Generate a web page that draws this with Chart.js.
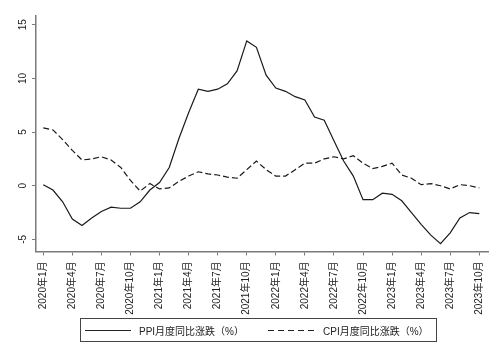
<!DOCTYPE html>
<html lang="zh">
<head>
    <meta charset="UTF-8">
    <title>PPI与CPI月度同比涨跌</title>
    <script src="https://cdn.jsdelivr.net/npm/chart.js"></script>
    <style>
        body { margin: 0; background: #fff; }
        .wrap { position: relative; width: 500px; height: 364px; }
        .legend {
            position: absolute; left: 80px; top: 318px; width: 355px; height: 22px;
            border: 1px solid #444;
            font: 10px 'Liberation Sans', 'Noto Sans CJK SC', sans-serif; color: #222;
        }
        .legend span, .legend svg { position: absolute; }
    </style>
</head>
<body>
<div class="wrap">
    <canvas id="chart" width="500" height="364"></canvas>
    <div class="legend">
        <svg style="left:4px;top:10px" width="46" height="3"><line x1="0" y1="1.5" x2="46" y2="1.5" stroke="#222" stroke-width="1.2"/></svg>
        <span style="left:58px;top:4px">PPI月度同比涨跌（%）</span>
        <svg style="left:187px;top:10px" width="48" height="3"><line x1="0" y1="1.5" x2="48" y2="1.5" stroke="#222" stroke-width="1.2" stroke-dasharray="6,4"/></svg>
        <span style="left:242px;top:4px">CPI月度同比涨跌（%）</span>
    </div>
</div>
<script>
    // 月份
    const months = [
        '2020年1月','2020年2月','2020年3月','2020年4月','2020年5月','2020年6月',
        '2020年7月','2020年8月','2020年9月','2020年10月','2020年11月','2020年12月',
        '2021年1月','2021年2月','2021年3月','2021年4月','2021年5月','2021年6月',
        '2021年7月','2021年8月','2021年9月','2021年10月','2021年11月','2021年12月',
        '2022年1月','2022年2月','2022年3月','2022年4月','2022年5月','2022年6月',
        '2022年7月','2022年8月','2022年9月','2022年10月','2022年11月','2022年12月',
        '2023年1月','2023年2月','2023年3月','2023年4月','2023年5月','2023年6月',
        '2023年7月','2023年8月','2023年9月','2023年10月'
    ];
    // PPI月度同比涨跌（%）
    const ppi = [
        0.1, -0.4, -1.5, -3.1, -3.7, -3.0, -2.4, -2.0, -2.1, -2.1, -1.5, -0.4,
        0.3, 1.7, 4.4, 6.8, 9.0, 8.8, 9.0, 9.5, 10.7, 13.5, 12.9, 10.3,
        9.1, 8.8, 8.3, 8.0, 6.4, 6.1, 4.2, 2.3, 0.9, -1.3, -1.3, -0.7,
        -0.8, -1.4, -2.5, -3.6, -4.6, -5.4, -4.4, -3.0, -2.5, -2.6
    ];
    // CPI月度同比涨跌（%）
    const cpi = [
        5.4, 5.2, 4.3, 3.3, 2.4, 2.5, 2.7, 2.4, 1.7, 0.5, -0.5, 0.2,
        -0.3, -0.2, 0.4, 0.9, 1.3, 1.1, 1.0, 0.8, 0.7, 1.5, 2.3, 1.5,
        0.9, 0.9, 1.5, 2.1, 2.1, 2.5, 2.7, 2.5, 2.8, 2.1, 1.6, 1.8,
        2.1, 1.0, 0.7, 0.1, 0.2, 0.0, -0.3, 0.1, 0.0, -0.2
    ];
    // 坐标轴刻度
    const xTickIdx = [0, 3, 6, 9, 12, 15, 18, 21, 24, 27, 30, 33, 36, 39, 42, 45];
    const yTicks = [-5, 0, 5, 10, 15];

    const FONT = "'Liberation Sans', 'Noto Sans CJK SC', sans-serif";
    const AXIS = '#7a7a7a';

    // y轴竖排数字
    const yLabelPlugin = {
        id: 'yLabels',
        afterDraw(chart) {
            const ctx = chart.ctx, y = chart.scales.y;
            ctx.save();
            ctx.font = '10px ' + FONT;
            ctx.fillStyle = '#222';
            ctx.textAlign = 'center';
            ctx.textBaseline = 'middle';
            yTicks.forEach(v => {
                ctx.save();
                ctx.translate(23, y.getPixelForValue(v));
                ctx.rotate(-Math.PI / 2);
                ctx.fillText(String(v), 0, 0);
                ctx.restore();
            });
            ctx.restore();
        }
    };

    new Chart(document.getElementById('chart'), {
        type: 'line',
        data: {
            datasets: [{
                label: 'PPI月度同比涨跌（%）',
                data: ppi.map((v, i) => ({ x: i, y: v })),
                borderColor: '#1a1a1a',
                borderWidth: 1.2,
                pointRadius: 0,
                tension: 0
            }, {
                label: 'CPI月度同比涨跌（%）',
                data: cpi.map((v, i) => ({ x: i, y: v })),
                borderColor: '#1a1a1a',
                borderWidth: 1.2,
                borderDash: [6, 3],
                pointRadius: 0,
                tension: 0
            }]
        },
        options: {
            responsive: false,
            animation: false,
            layout: { padding: { top: 16, right: 12, left: 0, bottom: 0 } },
            plugins: { legend: { display: false }, tooltip: { enabled: false } },
            scales: {
                x: {
                    type: 'linear',
                    min: -0.75,
                    max: 45.9,
                    afterBuildTicks: s => { s.ticks = xTickIdx.map(v => ({ value: v })); },
                    afterFit: s => { s.height = 112.5; },
                    grid: { display: true, drawOnChartArea: false, drawTicks: true, tickLength: 4, color: AXIS },
                    border: { display: true, color: AXIS, width: 1.5 },
                    ticks: {
                        autoSkip: false,
                        minRotation: 90,
                        maxRotation: 90,
                        padding: 6,
                        color: '#222',
                        font: { family: FONT, size: 10 },
                        callback: v => months[v]
                    }
                },
                y: {
                    min: -6.13,
                    max: 15.82,
                    afterBuildTicks: s => { s.ticks = yTicks.map(v => ({ value: v })); },
                    afterFit: s => { s.width = 36; },
                    grid: { display: true, drawOnChartArea: false, drawTicks: true, tickLength: 4, color: AXIS },
                    border: { display: true, color: AXIS, width: 1.5 },
                    ticks: { display: false }
                }
            }
        },
        plugins: [yLabelPlugin]
    });
</script>
</body>
</html>
